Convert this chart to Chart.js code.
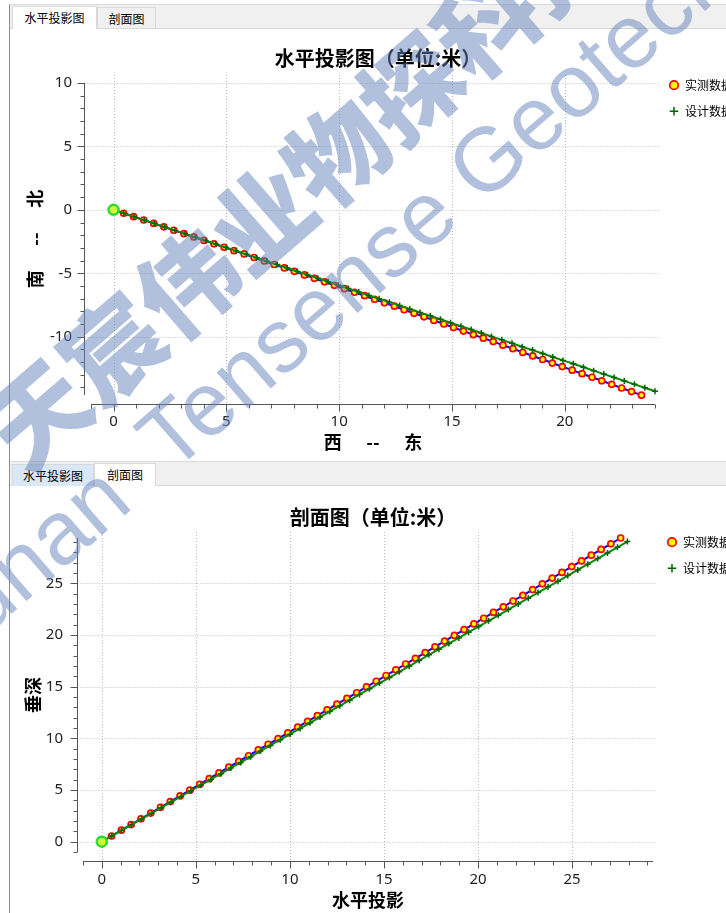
<!DOCTYPE html>
<html>
<head>
<meta charset="utf-8">
<script src="https://cdn.jsdelivr.net/npm/chart.js@4.4.1/dist/chart.umd.min.js"></script>
<style>
  html, body { margin: 0; padding: 0; }
  body { width: 726px; height: 913px; overflow: hidden; position: relative; background: #fff; font-family: 'Noto Sans CJK SC', sans-serif; }
  .panel { position: absolute; left: 9px; width: 760px; border-left: 1px solid #8c8c8c; border-top: 1px solid #dadada; }
  .tabs { position: absolute; left: 0; right: 0; top: 0; height: 23px; background: #f0f0f0; border-bottom: 1px solid #d9d9d9; }
  .tab { position: absolute; top: 2px; height: 22px; line-height: 21px; font-size: 12px; text-align: center; color: #000; box-sizing: border-box; border: 1px solid #d9d9d9; border-bottom: none; }
  .tab.on { background: #fff; top: 1px; height: 23px; }
  .tab.hov { background: #d9e7f6; }
  .plot { position: absolute; left: 0; }
  .wm { position: absolute; white-space: nowrap; line-height: 1; color: rgba(100,130,185,0.5); transform-origin: 0 0; pointer-events: none; }
</style>
</head>
<body>
<div class="panel" style="top:4px;height:456px">
  <div class="tabs">
    <div class="tab on" style="left:2px;width:85px">水平投影图</div>
    <div class="tab" style="left:87px;width:59px">剖面图</div>
  </div>
  <div class="plot" style="top:24px;width:733px;height:429px"><canvas id="planChart"></canvas></div>
</div>
<div class="panel" style="top:461px;height:452px">
  <div class="tabs">
    <div class="tab hov" style="left:2px;width:82px">水平投影图</div>
    <div class="tab on" style="left:84px;width:62px">剖面图</div>
  </div>
  <div class="plot" style="top:27px;width:731px;height:424px"><canvas id="profileChart"></canvas></div>
</div>
<div class="wm" style="left:-35px;top:405px;font-size:99px;font-weight:900;transform:rotate(-41deg)">天宸伟业物探科技</div>
<div class="wm" style="left:-115px;top:623px;font-size:90px;font-family:'Liberation Sans';transform:rotate(-41deg)">Hunan&nbsp; Tensense Geotech</div>

<script>
// measured survey (实测数据)
const measEast  = [0, 0.45, 0.89, 1.34, 1.78, 2.23, 2.67, 3.12, 3.56, 4.01, 4.45, 4.90, 5.34, 5.79, 6.23, 6.68, 7.12, 7.57, 8.01, 8.46, 8.90, 9.35, 9.79, 10.24, 10.68, 11.13, 11.57, 12.01, 12.45, 12.88, 13.32, 13.76, 14.20, 14.64, 15.07, 15.51, 15.95, 16.39, 16.83, 17.26, 17.70, 18.14, 18.58, 19.02, 19.45, 19.89, 20.33, 20.77, 21.21, 21.64, 22.08, 22.52, 22.96, 23.40];
const measNorth = [0, -0.27, -0.54, -0.80, -1.07, -1.34, -1.61, -1.88, -2.14, -2.41, -2.68, -2.95, -3.22, -3.48, -3.76, -4.03, -4.31, -4.58, -4.85, -5.13, -5.40, -5.68, -5.95, -6.22, -6.50, -6.77, -7.05, -7.33, -7.60, -7.88, -8.16, -8.44, -8.72, -9.00, -9.28, -9.56, -9.84, -10.12, -10.39, -10.67, -10.95, -11.24, -11.52, -11.80, -12.08, -12.36, -12.64, -12.92, -13.20, -13.48, -13.76, -14.05, -14.33, -14.61];
const measHz    = [0, 0.52, 1.04, 1.56, 2.08, 2.60, 3.12, 3.64, 4.16, 4.68, 5.20, 5.71, 6.23, 6.75, 7.28, 7.80, 8.32, 8.84, 9.37, 9.89, 10.41, 10.94, 11.46, 11.98, 12.50, 13.03, 13.55, 14.07, 14.59, 15.11, 15.63, 16.15, 16.67, 17.19, 17.71, 18.22, 18.74, 19.26, 19.78, 20.30, 20.82, 21.34, 21.86, 22.38, 22.90, 23.42, 23.94, 24.46, 24.98, 25.50, 26.02, 26.54, 27.06, 27.58];
const measDepth = [0, 0.55, 1.11, 1.66, 2.22, 2.77, 3.33, 3.88, 4.44, 4.99, 5.55, 6.10, 6.66, 7.21, 7.77, 8.32, 8.88, 9.43, 9.98, 10.54, 11.09, 11.65, 12.20, 12.76, 13.31, 13.87, 14.42, 14.98, 15.53, 16.09, 16.64, 17.20, 17.75, 18.31, 18.86, 19.41, 19.97, 20.52, 21.08, 21.63, 22.19, 22.74, 23.30, 23.85, 24.41, 24.96, 25.52, 26.07, 26.63, 27.18, 27.74, 28.29, 28.84, 29.40];

// design trajectory (设计数据)
const designEast  = [0, 0.45, 0.91, 1.36, 1.81, 2.26, 2.72, 3.17, 3.62, 4.08, 4.53, 4.98, 5.43, 5.89, 6.34, 6.79, 7.25, 7.70, 8.15, 8.60, 9.06, 9.51, 9.96, 10.41, 10.87, 11.32, 11.77, 12.23, 12.68, 13.13, 13.58, 14.04, 14.49, 14.94, 15.40, 15.85, 16.30, 16.75, 17.21, 17.66, 18.11, 18.57, 19.02, 19.47, 19.92, 20.38, 20.83, 21.28, 21.73, 22.19, 22.64, 23.09, 23.55, 24.00];
const designNorth = [0, -0.27, -0.54, -0.81, -1.08, -1.35, -1.62, -1.89, -2.16, -2.43, -2.70, -2.97, -3.24, -3.51, -3.78, -4.05, -4.32, -4.59, -4.86, -5.13, -5.40, -5.67, -5.94, -6.21, -6.48, -6.75, -7.01, -7.28, -7.55, -7.82, -8.09, -8.36, -8.63, -8.90, -9.17, -9.44, -9.71, -9.98, -10.25, -10.52, -10.79, -11.06, -11.33, -11.60, -11.87, -12.14, -12.41, -12.68, -12.95, -13.22, -13.49, -13.76, -14.03, -14.30];
const designHz    = [0, 0.53, 1.05, 1.58, 2.11, 2.64, 3.16, 3.69, 4.22, 4.74, 5.27, 5.80, 6.33, 6.85, 7.38, 7.91, 8.43, 8.96, 9.49, 10.01, 10.54, 11.07, 11.60, 12.12, 12.65, 13.18, 13.70, 14.23, 14.76, 15.29, 15.81, 16.34, 16.87, 17.39, 17.92, 18.45, 18.98, 19.50, 20.03, 20.56, 21.08, 21.61, 22.14, 22.67, 23.19, 23.72, 24.25, 24.77, 25.30, 25.83, 26.36, 26.88, 27.41, 27.94];
const designDepth = [0, 0.55, 1.10, 1.64, 2.19, 2.74, 3.29, 3.84, 4.38, 4.93, 5.48, 6.03, 6.58, 7.13, 7.67, 8.22, 8.77, 9.32, 9.87, 10.41, 10.96, 11.51, 12.06, 12.61, 13.15, 13.70, 14.25, 14.80, 15.35, 15.89, 16.44, 16.99, 17.54, 18.09, 18.64, 19.18, 19.73, 20.28, 20.83, 21.38, 21.92, 22.47, 23.02, 23.57, 24.12, 24.66, 25.21, 25.76, 26.31, 26.86, 27.41, 27.95, 28.50, 29.05];

// axis ranges
const planX = [-1, 24];
const planY = [-14.6, 10];
const profileX = [-1, 29.3];
const profileY = [-1, 29.4];
const majorStep = 5;

const FONT = "'Noto Sans', 'Noto Sans CJK SC', sans-serif";
const CJK = "'Noto Sans CJK SC', sans-serif";

function pts(xs, ys) {
    return xs.map((v, i) => ({x: v, y: ys[i]}));
}

// qwt-like detached axes with minor ticks and dotted grid
const qwtAxes = {
    id: 'qwtAxes',
    beforeDatasetsDraw(chart, args, o) {
        const {ctx, chartArea: a, scales: {x, y}} = chart;
        const axX = a.left - o.yGap + 0.5;
        const axY = a.bottom + o.xGap + 0.5;
        const seg = (x1, y1, x2, y2) => { ctx.beginPath(); ctx.moveTo(x1, y1); ctx.lineTo(x2, y2); ctx.stroke(); };
        ctx.save();
        ctx.lineWidth = 1;
        // grid
        ctx.strokeStyle = '#bdbdbd';
        ctx.setLineDash([1, 2]);
        for (let v = Math.ceil(x.min); v <= x.max; v++) {
            if (v % majorStep) continue;
            const px = Math.round(x.getPixelForValue(v)) + 0.5;
            seg(px, a.top - o.gridTop, px, axY);
        }
        for (let v = Math.ceil(y.min); v <= y.max; v++) {
            if (v % majorStep) continue;
            const py = Math.round(y.getPixelForValue(v)) + 0.5;
            seg(axX, py, a.right + o.gridRight, py);
        }
        ctx.setLineDash([]);
        // axis lines and ticks
        ctx.strokeStyle = '#555';
        seg(axX, a.top, axX, a.bottom);
        seg(a.left, axY, a.right, axY);
        for (let v = Math.ceil(y.min); v <= y.max; v++) {
            const py = Math.round(y.getPixelForValue(v)) + 0.5;
            seg(axX - (v % majorStep ? 4 : 7), py, axX, py);
        }
        for (let v = Math.ceil(x.min); v <= x.max; v++) {
            const px = Math.round(x.getPixelForValue(v)) + 0.5;
            seg(px, axY, px, axY + (v % majorStep ? 4 : 7));
        }
        ctx.restore();
    }
};

function makeChart(id, cfg) {
    const tickCb = v => (Math.abs(v % majorStep) < 1e-9 ? String(v) : '');
    const scale = (range, fit, pad, titleText, titlePad) => ({
        type: 'linear',
        min: range[0],
        max: range[1],
        afterFit: fit,
        grid: {display: false, drawTicks: false},
        border: {display: false},
        ticks: {
            stepSize: 1, autoSkip: false, includeBounds: false, maxTicksLimit: 200,
            maxRotation: 0, padding: pad, color: '#222',
            font: {family: FONT, size: 15},
            callback: tickCb
        },
        title: {display: true, text: titleText, color: '#000', padding: titlePad,
            font: {family: CJK, size: 18, weight: 'bold'}}
    });

    return new Chart(document.getElementById(id), {
        type: 'line',
        data: {
            datasets: [{
                label: '实测数据',
                data: cfg.meas,
                borderColor: '#0000ff',
                borderWidth: 2,
                pointStyle: 'circle',
                pointRadius: 3,
                pointBorderColor: '#ff0000',
                pointBackgroundColor: '#ffff00',
                pointBorderWidth: 1.7,
                clip: false,
                order: 2
            }, {
                label: '设计数据',
                data: cfg.design,
                borderColor: '#0c880c',
                borderWidth: 2,
                pointStyle: 'cross',
                pointRadius: 3,
                pointBorderColor: '#006400',
                pointBackgroundColor: '#006400',
                pointBorderWidth: 1.5,
                clip: false,
                order: 1
            }, {
                label: 'start',
                data: [cfg.meas[0]],
                showLine: false,
                pointRadius: 5,
                pointBorderColor: '#2edc2e',
                pointBackgroundColor: '#d4f53c',
                pointBorderWidth: 2.5,
                clip: false,
                order: 0
            }]
        },
        options: {
            responsive: true,
            maintainAspectRatio: false,
            animation: false,
            events: [],
            layout: {padding: 0},
            plugins: {
                title: {
                    display: true,
                    text: '\u2002' + cfg.title,
                    fullSize: false,
                    color: '#000',
                    font: {family: CJK, size: 20, weight: 'bold'},
                    padding: cfg.titlePad
                },
                legend: {
                    position: 'right',
                    align: 'start',
                    title: {display: true, text: ' ', font: {size: 1}, padding: {top: cfg.legendTop, bottom: 0}},
                    labels: {
                        usePointStyle: true,
                        boxWidth: 10,
                        boxHeight: 6,
                        padding: 14,
                        color: '#000',
                        font: {family: CJK, size: 12},
                        filter: item => item.text !== 'start',
                        sort: (a, b) => a.datasetIndex - b.datasetIndex
                    }
                },
                tooltip: {enabled: false},
                qwtAxes: cfg.axes
            },
            scales: {
                x: scale(cfg.xRange, s => { s.height = cfg.xHeight; }, cfg.xPad, cfg.xTitle, cfg.xTitlePad),
                y: scale(cfg.yRange, s => { s.width = cfg.yWidth; }, cfg.yPad, cfg.yTitle, cfg.yTitlePad)
            }
        },
        plugins: [qwtAxes]
    });
}

makeChart('planChart', {
    meas: pts(measEast, measNorth),
    design: pts(designEast, designNorth),
    title: '水平投影图（单位:米）',
    titlePad: {top: 17, bottom: 13},
    legendTop: 35,
    xRange: planX, yRange: planY,
    xHeight: 63, yWidth: 81,
    xPad: 18, yPad: 19,
    xTitle: '西      --      东', xTitlePad: {top: 0, bottom: 5},
    yTitle: '南      --      北', yTitlePad: {top: 14, bottom: 0},
    axes: {yGap: 7, xGap: 9, gridTop: 8, gridRight: 4}
});

makeChart('profileChart', {
    meas: pts(measHz, measDepth),
    design: pts(designHz, designDepth),
    title: '剖面图（单位:米）',
    titlePad: {top: 16, bottom: 9},
    legendTop: 32,
    xRange: profileX, yRange: profileY,
    xHeight: 61, yWidth: 73,
    xPad: 19, yPad: 20,
    xTitle: '水平投影', xTitlePad: {top: 0, bottom: 2},
    yTitle: '垂深', yTitlePad: {top: 12, bottom: 0},
    axes: {yGap: 6, xGap: 9, gridTop: 6, gridRight: 3}
});
</script>
</body>
</html>
